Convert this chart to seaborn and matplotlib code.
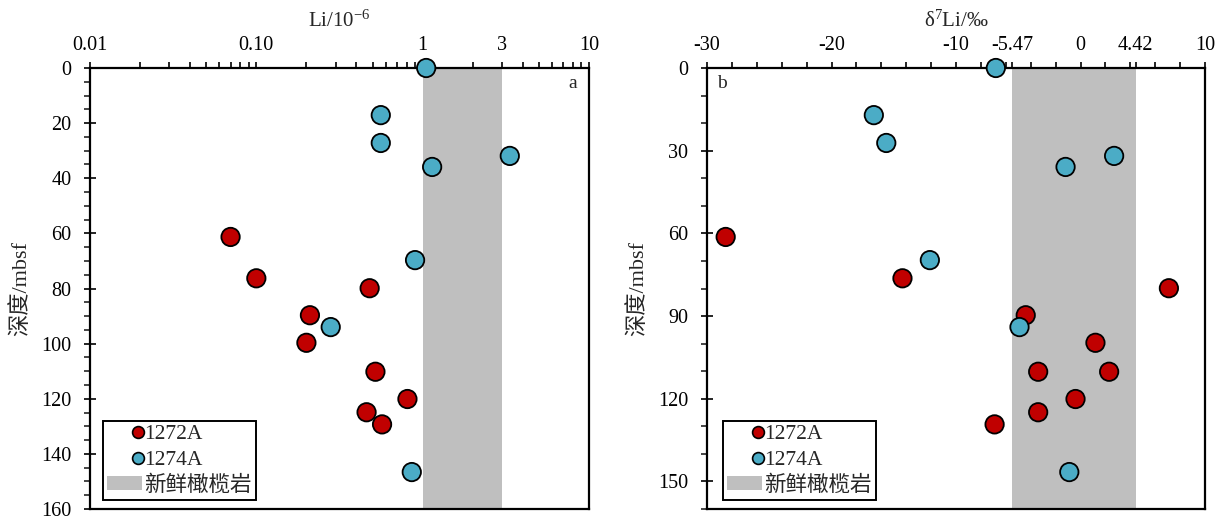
import pandas as pd
import seaborn as sns
import matplotlib.pyplot as plt
from matplotlib.lines import Line2D
from matplotlib.patches import Patch
from matplotlib.legend_handler import HandlerLine2D
from matplotlib.ticker import LogLocator, MultipleLocator, FixedLocator, FixedFormatter, NullFormatter

# данные панели a (Li, 10^-6)
li_1272_val = [0.070, 0.10, 0.48, 0.21, 0.20, 0.52, 0.81, 0.46, 0.57]
li_1272_depth = [61.3, 76.3, 79.9, 89.7, 99.7, 110.2, 120.1, 124.9, 129.3]
li_1274_val = [1.05, 0.56, 0.56, 3.34, 1.14, 0.90, 0.28, 0.86]
li_1274_depth = [0, 17.1, 27.2, 31.9, 35.9, 69.7, 94.0, 146.6]

# данные панели b (δ7Li, ‰)
d7_1272_val = [-28.5, -14.3, 7.1, -4.4, 1.2, -3.4, 2.3, -0.4, -3.4, -6.9]
d7_1272_depth = [61.3, 76.3, 79.9, 89.7, 99.7, 110.2, 110.2, 120.1, 124.9, 129.3]
d7_1274_val = [-6.8, -16.6, -15.6, 2.7, -1.2, -12.1, -4.9, -0.9]
d7_1274_depth = [0, 17.1, 27.2, 31.9, 35.9, 69.7, 94.0, 146.6]

sites = ['1272A', '1274A']
li_band = (1, 3)
d7_band = (-5.47, 4.42)
band_label = '新鲜橄榄岩'

red = '#C00000'
blue = '#4BACC6'
grey = '#BFBFBF'

sns.set_style('ticks')
plt.rcParams['font.family'] = ['Liberation Serif', 'Noto Sans CJK SC']
plt.rcParams['mathtext.fontset'] = 'custom'
plt.rcParams['mathtext.rm'] = 'Liberation Serif'
plt.rcParams['mathtext.it'] = 'Liberation Serif'


def make_df(v1, d1, v2, d2):
    return pd.DataFrame({
        'value': v1 + v2,
        'depth': d1 + d2,
        'site': [sites[0]] * len(v1) + [sites[1]] * len(v2),
    })


df_li = make_df(li_1272_val, li_1272_depth, li_1274_val, li_1274_depth)
df_d7 = make_df(d7_1272_val, d7_1272_depth, d7_1274_val, d7_1274_depth)


class RightMarker(HandlerLine2D):
    # маркер справа в ячейке легенды, как в оригинале
    # (при numpoints=1 маркер ставится в середину отрезка xdata)
    def get_xdata(self, legend, xdescent, ydescent, width, height, fontsize):
        xdata = [-xdescent + 0.76 * width, -xdescent + width]
        return xdata, [-xdescent + 0.88 * width]


fig = plt.figure(figsize=(12.23, 5.2), dpi=100)
ax1 = fig.add_axes([90 / 1223, 11 / 520, 499 / 1223, 441 / 520])
ax2 = fig.add_axes([707 / 1223, 11 / 520, 498 / 1223, 441 / 520])

for ax, df, band in [(ax1, df_li, li_band), (ax2, df_d7, d7_band)]:
    ax.axvspan(band[0], band[1], color=grey, lw=0, zorder=0)
    sns.scatterplot(data=df, x='value', y='depth', hue='site', hue_order=sites,
                    palette=[red, blue], s=175, edgecolor='black', linewidth=1.3,
                    legend=False, ax=ax, zorder=3, clip_on=False)
    ax.set_ylim(160, 0)
    ax.xaxis.tick_top()
    ax.xaxis.set_label_position('top')
    ax.set_ylabel('深度/mbsf', fontsize=16, labelpad=7)
    for s in ax.spines.values():
        s.set_linewidth(1.6)
        s.set_color('black')
    ax.tick_params(axis='x', which='both', direction='out', length=4, width=1.2,
                   labelsize=14.5, pad=5, colors='black')
    ax.tick_params(axis='y', which='major', direction='inout', length=9, width=1.2,
                   labelsize=14.5, pad=9, colors='black')
    ax.tick_params(axis='y', which='minor', direction='out', length=4, width=1.2)

    handles = [Line2D([0], [0], ls='none', marker='o', markersize=8.5, markerfacecolor=red,
                      markeredgecolor='black', markeredgewidth=1.2),
               Line2D([0], [0], ls='none', marker='o', markersize=8.5, markerfacecolor=blue,
                      markeredgecolor='black', markeredgewidth=1.2),
               Patch(facecolor=grey, edgecolor='none')]
    anchor = (0.026, 0.02) if ax is ax1 else (0.032, 0.02)
    leg = ax.legend(handles, sites + [band_label], loc='lower left', bbox_to_anchor=anchor,
                    borderaxespad=0, fontsize=15.5, frameon=True, fancybox=False,
                    framealpha=1, edgecolor='black', handlelength=1.6, handleheight=0.6,
                    handletextpad=0.1, labelspacing=0.27, borderpad=0.2,
                    handler_map={Line2D: RightMarker()})
    leg.get_frame().set_linewidth(1.4)

# панель a
ax1.set_xscale('log')
ax1.set_xlim(0.01, 10)
ax1.xaxis.set_major_locator(FixedLocator([0.01, 0.1, 1, 3, 10]))
ax1.xaxis.set_major_formatter(FixedFormatter(['0.01', '0.10', '1', '3', '10']))
ax1.xaxis.set_minor_locator(LogLocator(base=10, subs=range(2, 10)))
ax1.xaxis.set_minor_formatter(NullFormatter())
ax1.yaxis.set_major_locator(MultipleLocator(20))
ax1.yaxis.set_minor_locator(MultipleLocator(5))
ax1.set_xlabel('Li/10$^{-6}$', fontsize=15, labelpad=7)
ax1.text(0.975, 0.985, 'a', transform=ax1.transAxes, ha='right', va='top', fontsize=14)

# панель b
ax2.set_xlim(-30, 10)
ax2.xaxis.set_major_locator(FixedLocator([-30, -20, -10, -5.47, 0, 4.42, 10]))
ax2.xaxis.set_major_formatter(FixedFormatter(['-30', '-20', '-10', '-5.47', '0', '4.42', '10']))
ax2.xaxis.set_minor_locator(MultipleLocator(2))
ax2.yaxis.set_major_locator(MultipleLocator(30))
ax2.yaxis.set_minor_locator(MultipleLocator(10))
ax2.set_xlabel('δ$^{7}$Li/‰', fontsize=15, labelpad=7)
ax2.text(0.02, 0.985, 'b', transform=ax2.transAxes, ha='left', va='top', fontsize=14)

fig.savefig('out.png', dpi=100)
